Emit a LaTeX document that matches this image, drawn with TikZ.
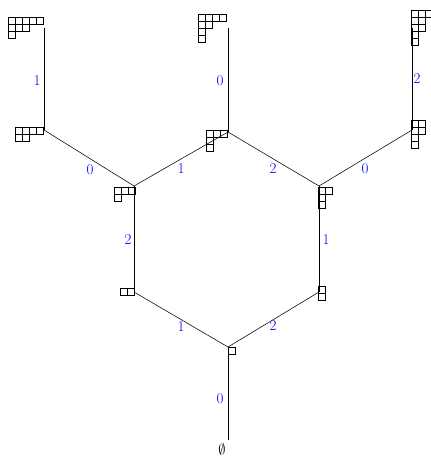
\documentclass[tikz,border=0pt]{standalone}
\tikzset{
  ybox/.style={draw=black, line width=0.6pt},
  edge/.style={draw=black, line width=0.55pt},
  lab/.style={text=blue, font=\fontsize{15}{17}\selectfont, inner sep=0pt},
}
\newcommand\ydiag[3]{\begin{scope}[shift={(#1,#2)}]\foreach \len [count=\r from 0] in {#3} {\foreach \c in {1,...,\len} {\draw[ybox] (\c*7-7,\r*7) rectangle ++(7,7);}}\end{scope}}
\begin{document}
\begin{tikzpicture}[x=1pt,y=-1pt]
\useasboundingbox (0,0) rectangle (431,456);
% vertices
\coordinate (e0) at (228,440);
\coordinate (v1) at (228,347);
\coordinate (v2) at (134,292);
\coordinate (v11) at (319,292);
\coordinate (v31) at (134,186);
\coordinate (v211) at (319,186);
\coordinate (v311) at (228,132);
\coordinate (v42) at (44,130);
\coordinate (v2211) at (412,130);
\coordinate (v4211) at (228,28);
\coordinate (v531) at (44,28);
\coordinate (v32211) at (412,28);
% diagrams
\node[inner sep=0pt, font=\fontsize{14}{16}\selectfont] (empty) at (222,449) {$\emptyset$};
\ydiag{228}{347}{1}
\ydiag{120}{288}{2}
\ydiag{318}{286}{1,1}
\ydiag{114}{187}{3,1}
\ydiag{318}{187}{2,1,1}
\ydiag{206}{130}{3,1,1}
\ydiag{15}{127}{4,2}
\ydiag{411}{120}{2,2,1,1}
\ydiag{198}{14}{4,2,1,1}
\ydiag{8}{17}{5,3,1}
\ydiag{411}{10}{3,2,2,1,1}
% edges
\draw[edge] (e0) -- (v1);
\draw[edge] (v1) -- (v2);
\draw[edge] (v1) -- (v11);
\draw[edge] (v2) -- (v31);
\draw[edge] (v11) -- (v211);
\draw[edge] (v31) -- (v311);
\draw[edge] (v211) -- (v311);
\draw[edge] (v31) -- (v42);
\draw[edge] (v211) -- (v2211);
\draw[edge] (v311) -- (v4211);
\draw[edge] (v42) -- (v531);
\draw[edge] (v2211) -- (v32211);
% labels
\node[lab] (l1) at (220,399) {0};
\node[lab] (l2) at (181,327) {1};
\node[lab] (l3) at (273,326) {2};
\node[lab] (l4) at (128,240) {2};
\node[lab] (l5) at (326,240) {1};
\node[lab] (l6) at (181,169) {1};
\node[lab] (l7) at (273,169) {2};
\node[lab] (l8) at (90,170) {0};
\node[lab] (l9) at (365,169) {0};
\node[lab] (l10) at (220,81) {0};
\node[lab] (l11) at (37,81) {1};
\node[lab] (l12) at (417,79) {2};
\end{tikzpicture}
\end{document}
